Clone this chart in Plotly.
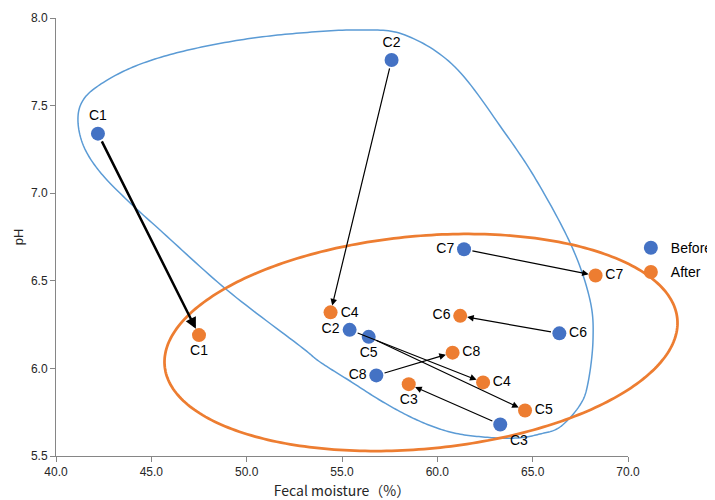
import numpy as np
import plotly.graph_objects as go

# ---------------- data ----------------
labels = ["C1", "C2", "C3", "C4", "C5", "C6", "C7", "C8"]
before_moisture = [42.2, 57.6, 63.3, 55.4, 56.4, 66.4, 61.4, 56.8]
before_ph = [7.34, 7.76, 5.68, 6.22, 6.18, 6.20, 6.68, 5.96]
after_moisture = [47.5, 54.4, 58.5, 62.4, 64.6, 61.2, 68.3, 60.8]
after_ph = [6.19, 6.32, 5.91, 5.92, 5.76, 6.30, 6.53, 6.09]

before_textpos = ["top center", "top center", "bottom right", "top center",
                  "bottom center", "middle right", "middle left", "middle left"]
after_textpos = ["bottom center", "bottom center", "bottom center", "middle right",
                 "middle right", "middle left", "middle right", "middle right"]

x_ticks = [40, 45, 50, 55, 60, 65, 70]
y_ticks = [5.5, 6.0, 6.5, 7.0, 7.5, 8.0]

# ---------------- layout geometry ----------------
OFF = 8                     # default page margin around the figure
W, H = 715 - OFF, 500 - OFF
ML, MR, MT, MB = 56 - OFF, 87, 18 - OFF, 44
PW, PH = W - ML - MR, H - MT - MB

def px_to_paper(px, py):
    # px, py are window pixel positions
    px = np.asarray(px) - OFF
    py = np.asarray(py) - OFF
    return (px - ML) / PW, 1 - (py - MT) / PH

# group outline for "before" (hand-traced, window pixel space)
blue_outline_px = [
    (78, 122), (82, 102), (98, 86), (133, 67), (180, 52), (240, 40), (300, 33),
    (360, 30), (405, 35), (455, 67), (505, 133), (538, 183), (572, 247),
    (590, 300), (593, 340), (588, 383), (580, 405), (560, 427), (540, 434),
    (517, 438), (483, 437), (450, 432), (417, 420), (383, 402), (350, 381),
    (320, 362), (300, 346), (227, 290), (160, 230), (127, 200), (100, 172),
    (84, 147),
]

def closed_catmull_rom(pts, n=16):
    P = np.array(pts, dtype=float)
    m = len(P)
    out = []
    for i in range(m):
        p0, p1, p2, p3 = P[(i - 1) % m], P[i], P[(i + 1) % m], P[(i + 2) % m]
        for t in np.linspace(0, 1, n, endpoint=False):
            t2, t3 = t * t, t * t * t
            out.append(0.5 * ((2 * p1) + (-p0 + p2) * t +
                              (2 * p0 - 5 * p1 + 4 * p2 - p3) * t2 +
                              (-p0 + 3 * p1 - 3 * p2 + p3) * t3))
    out.append(out[0])
    return np.array(out)

bc = closed_catmull_rom(blue_outline_px)
bx, by = px_to_paper(bc[:, 0], bc[:, 1])

# group outline for "after": rotated ellipse (window pixel space)
ecx, ecy, ea, eb, ephi = 421, 342.5, 257.4, 106.4, np.radians(5.25)
t = np.linspace(0, 2 * np.pi, 300)
epx = ecx + ea * np.cos(t) * np.cos(ephi) + eb * np.sin(t) * np.sin(ephi)
epy = ecy - ea * np.cos(t) * np.sin(ephi) + eb * np.sin(t) * np.cos(ephi)
ox, oy = px_to_paper(epx, epy)

def svg_path(xs, ys):
    return "M " + " L ".join(f"{a:.5f},{b:.5f}" for a, b in zip(xs, ys)) + " Z"

BLUE = "#4472C4"
ORANGE = "#ED7D31"
font_main = "Liberation Sans, Arial, sans-serif"

fig = go.Figure()

fig.add_trace(go.Scatter(
    x=before_moisture, y=before_ph, mode="markers+text", name="Before",
    legendgroup="before",
    text=labels, textposition=before_textpos,
    marker=dict(color=BLUE, size=14, line=dict(width=0)),
    textfont=dict(family=font_main, size=14, color="#000000"),
))
fig.add_trace(go.Scatter(
    x=after_moisture, y=after_ph, mode="markers+text", name="After",
    legendgroup="after",
    text=labels, textposition=after_textpos,
    marker=dict(color=ORANGE, size=14, line=dict(width=0)),
    textfont=dict(family=font_main, size=14, color="#000000"),
))

shapes = [
    dict(type="path", path=svg_path(bx, by), xref="paper", yref="paper",
         line=dict(color="#5B9BD5", width=1.5), layer="below"),
    dict(type="path", path=svg_path(ox, oy), xref="paper", yref="paper",
         line=dict(color=ORANGE, width=2.75), layer="below"),
]

annotations = []
for i in range(len(labels)):
    annotations.append(dict(
        x=after_moisture[i], y=after_ph[i], xref="x", yref="y",
        ax=before_moisture[i], ay=before_ph[i], axref="x", ayref="y",
        showarrow=True, arrowhead=2, arrowsize=1.1 if i else 0.9,
        arrowwidth=2.5 if i == 0 else 1.2, arrowcolor="#000000",
        standoff=7, startstandoff=7, text="",
    ))

fig.update_layout(
    width=W, height=H,
    margin=dict(l=ML, r=MR, t=MT, b=MB, autoexpand=False),
    paper_bgcolor="white", plot_bgcolor="white",
    shapes=shapes, annotations=annotations,
    showlegend=True,
    legend=dict(x=1.005, y=0.447, xanchor="left", yanchor="middle",
                font=dict(family=font_main, size=14, color="#000000"),
                traceorder="grouped", tracegroupgap=3,
                itemwidth=30, bgcolor="rgba(0,0,0,0)"),
    xaxis=dict(range=[40, 70], tickvals=x_ticks, tickformat=".1f",
               showgrid=False, zeroline=False, showline=True, automargin=False,
               linecolor="#868686", linewidth=1, ticks="outside", ticklen=5,
               tickcolor="#868686",
               tickfont=dict(family=font_main, size=12, color="#262626"),
               title=dict(text="Fecal moisture（%）", standoff=9,
                          font=dict(family="Noto Sans CJK JP", size=14, color="#262626"))),
    yaxis=dict(range=[5.5, 8.0], tickvals=y_ticks, tickformat=".1f",
               showgrid=False, zeroline=False, showline=True, automargin=False,
               linecolor="#868686", linewidth=1, ticks="outside", ticklen=5,
               tickcolor="#868686",
               tickfont=dict(family=font_main, size=12, color="#262626"),
               title=dict(text="pH", standoff=4,
                          font=dict(family=font_main, size=13, color="#262626"))),
)

fig.write_html("out.html")
